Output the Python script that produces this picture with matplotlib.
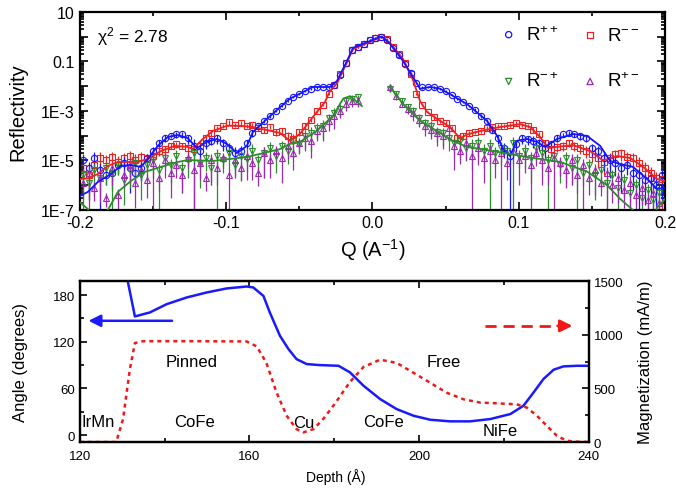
import numpy as np
import matplotlib
matplotlib.use('Agg')
import matplotlib.pyplot as plt
from matplotlib.ticker import FixedLocator, MultipleLocator, FuncFormatter, NullFormatter

plt.rcParams['font.family'] = ['Liberation Sans', 'DejaVu Sans']
plt.rcParams['mathtext.fontset'] = 'custom'
plt.rcParams['mathtext.rm'] = 'Liberation Sans'
plt.rcParams['mathtext.it'] = 'Liberation Sans:italic'
plt.rcParams['mathtext.default'] = 'regular'

# ---------------- top panel: reflectivity (log10 values) ----------------
# non spin-flip data, Q = -0.198 ... 0.198 (step 0.004)
log_r_pp = [-5.0, -5.3, -4.9, -5.4, -5.6, -5.5, -5.2, -5.1, -5.3, -5.5,
            -5.3, -4.9, -4.6, -4.3, -4.1, -4.0, -3.95, -3.95, -4.1, -4.4,
            -4.6, -4.3, -4.2, -4.1, -4.3, -4.5, -4.7, -4.6, -4.3, -3.9,
            -3.6, -3.4, -3.2, -3.0, -2.8, -2.6, -2.45, -2.3, -2.2, -2.1,
            -2.05, -2.03, -2.05, -1.95, -1.55, -1.05, -0.55, -0.4, -0.28, -0.15,
            -0.05, 0.0, -0.12, -0.45, -0.75, -1.1, -1.45, -1.85, -2.05, -2.03,
            -2.05, -2.1, -2.2, -2.35, -2.5, -2.62, -2.8, -2.95, -3.2, -3.4,
            -3.75, -4.1, -4.5, -4.8, -4.35, -4.1, -4.15, -4.2, -4.3, -4.5,
            -4.35, -4.1, -3.95, -3.9, -3.95, -4.0, -4.1, -4.5, -4.6, -4.9,
            -5.0, -5.1, -5.3, -5.2, -5.5, -5.6, -5.8, -5.7, -6.0, -5.6]
log_r_mm = [-5.3, -5.6, -5.2, -4.9, -5.0, -4.85, -5.05, -4.9, -4.8, -5.0,
            -4.85, -4.95, -4.8, -4.6, -4.55, -4.4, -4.35, -4.4, -4.5, -4.55,
            -4.4, -4.1, -3.9, -3.7, -3.6, -3.45, -3.55, -3.5, -3.6, -3.55,
            -3.7, -3.75, -3.65, -3.85, -3.8, -4.0, -4.15, -3.85, -3.6, -3.35,
            -3.0, -2.75, -2.3, -1.95, -1.5, -1.05, -0.55, -0.4, -0.28, -0.15,
            -0.05, 0.0, -0.1, -0.4, -0.7, -1.05, -1.5, -2.3, -2.75, -3.05,
            -3.25, -3.4, -3.5, -3.7, -4.1, -4.0, -3.9, -3.85, -3.8, -3.7,
            -3.65, -3.6, -3.6, -3.55, -3.5, -3.55, -3.6, -3.75, -3.95, -4.3,
            -4.55, -4.45, -4.4, -4.3, -4.4, -4.5, -4.6, -4.75, -4.9, -5.05,
            -4.9, -4.75, -4.7, -4.85, -4.9, -5.1, -5.3, -5.5, -5.7, -5.75]
# relative errors in tenths (10 = bar reaches the bottom)
err_pp = [8, 9, 7, 10, 6, 8, 5, 7, 9, 6, 7, 5, 4,
          3, 3, 2, 3, 3, 4, 10, 5, 4, 3, 4, 5, 6, 8, 6,
          4, 3, 2, 2, 2, 1, 1, 1, 1, 1, 1, 1, 1, 1, 1, 1,
          1, 1, 1, 1, 1, 1, 1, 1, 1, 1, 1, 1, 1, 1,
          1, 1, 1, 1, 1, 1, 1, 1, 1, 2, 2, 2,
          3, 4, 6, 10, 5, 4, 4, 5, 5, 6,
          4, 3, 2, 2, 2, 3, 3, 5, 6, 7,
          8, 7, 9, 6, 8, 10, 9, 8, 10, 9]
err_mm = [6, 9, 5, 7, 6, 5, 7, 6, 5, 8, 6, 7, 5,
          4, 4, 3, 3, 3, 4, 4, 5, 3, 3, 2, 2, 2, 2, 2,
          2, 2, 2, 3, 2, 3, 3, 4, 5, 3, 3, 2, 2, 1, 1, 1,
          1, 1, 1, 1, 1, 1, 1, 1, 1, 1, 1, 1, 1, 1,
          1, 1, 2, 2, 2, 2, 3, 3, 2, 2, 2, 2,
          2, 2, 2, 2, 2, 2, 2, 3, 3, 4,
          5, 4, 4, 3, 4, 4, 5, 5, 6, 7,
          6, 5, 5, 6, 6, 7, 8, 8, 9, 10]

# spin-flip data, Q = -0.198 ... -0.010 and 0.012 ... 0.196 (step 0.004)
log_r_mp_neg = [-5.6, -5.9, -5.4, -5.7, -5.3, -5.5, -5.2, -5.8, -5.4, -5.1,
                -5.6, -5.2, -5.0, -5.4, -4.9, -5.2, -4.8, -5.3, -5.0, -4.7,
                -5.1, -4.9, -5.3, -4.8, -5.0, -4.7, -5.2, -4.8, -4.95, -4.6,
                -5.0, -4.7, -4.5, -4.8, -4.4, -4.6, -4.2, -4.35, -4.0, -3.9,
                -3.7, -3.6, -3.3, -3.1, -2.9, -2.6, -2.5, -2.45]
log_r_pm_neg = [-5.9, -5.5, -6.1, -5.7, -6.5, -5.3, -6.4, -5.6, -5.2, -5.9,
                -5.4, -5.8, -5.1, -5.7, -5.0, -5.5, -5.2, -5.6, -4.9, -5.4,
                -5.1, -5.7, -5.0, -5.3, -4.9, -5.6, -5.0, -5.3, -4.8, -5.1,
                -5.5, -4.7, -5.0, -4.6, -4.9, -4.4, -4.7, -4.3, -4.1, -4.2,
                -3.8, -3.7, -3.4, -3.2, -3.0, -2.7, -2.6, -2.6]
log_r_mp_pos = [-2.1, -2.3, -2.6, -2.85, -3.0, -3.3, -3.5, -3.6, -3.85, -3.9,
                -4.1, -4.3, -4.2, -4.5, -4.4, -4.3, -4.6, -4.4, -4.7, -4.5,
                -4.6, -4.3, -4.8, -4.6, -4.9, -4.5, -4.7, -5.0, -4.8, -5.2,
                -4.9, -5.3, -5.0, -5.5, -5.2, -5.6, -5.4, -5.9, -5.6, -6.1,
                -5.8, -6.3, -6.0, -6.5, -6.2, -6.6, -6.3]
log_r_pm_pos = [-2.05, -2.4, -2.7, -2.9, -3.1, -3.35, -3.6, -3.75, -3.9, -4.0,
                -3.7, -4.4, -4.6, -4.3, -4.8, -4.5, -4.9, -4.6, -5.0, -4.7,
                -5.1, -4.6, -5.0, -4.8, -5.2, -4.7, -5.0, -5.3, -4.9, -5.1,
                -5.4, -5.0, -5.6, -5.2, -5.7, -5.4, -5.9, -5.5, -6.0, -5.7,
                -6.2, -5.9, -6.4, -6.1, -6.6, -6.3, -6.7]
err_mp_neg = [10, 8, 9, 7, 8, 10, 6, 9, 8, 7, 9, 7, 8, 10, 6, 8, 7, 9, 8, 6,
              9, 7, 8, 10, 7, 8, 6, 9, 7, 8, 6, 9, 7, 8, 6, 7, 8, 6, 7, 8,
              6, 7, 5, 6, 5, 4, 4, 3]
err_pm_neg = [8, 10, 7, 9, 6, 8, 10, 7, 8, 9, 6, 8, 10, 7, 8, 9, 7, 8, 6, 10,
              8, 7, 9, 8, 6, 10, 8, 7, 9, 8, 7, 9, 8, 6, 9, 7, 8, 6, 7, 8,
              6, 7, 6, 7, 5, 5, 4, 4]
err_mp_pos = [2, 3, 3, 4, 4, 5, 5, 6, 6, 7, 7, 6, 8, 7, 9, 7, 8, 10, 7, 8,
              6, 10, 7, 8, 9, 7, 8, 10, 7, 8, 9, 8, 10, 7, 8, 9, 8, 10, 7, 9,
              8, 10, 8, 9, 8, 10, 8]
err_pm_pos = [2, 3, 3, 4, 5, 5, 6, 6, 7, 7, 7, 9, 7, 8, 10, 8, 9, 7, 8, 10,
              8, 7, 9, 8, 10, 7, 9, 8, 10, 7, 8, 9, 8, 10, 8, 9, 7, 10, 8, 9,
              8, 10, 9, 8, 10, 8, 9]

# fitted curves (Q, log10 R)
fit_pp_q = [-0.2, -0.1945, -0.1877, -0.1788, -0.172, -0.1651, -0.1583, -0.1535, -0.1467,
            -0.1398, -0.133, -0.1262, -0.12, -0.1132, -0.1063, -0.0995, -0.0926, -0.0858,
            -0.0817, -0.0721, -0.0632, -0.0564, -0.0496, -0.0407, -0.0291, -0.0243, -0.0174,
            -0.0133, 0.0051, 0.0065, 0.012, 0.0209, 0.0277, 0.0325, 0.0393, 0.0462, 0.055,
            0.0646, 0.0687, 0.0783, 0.0851, 0.0892, 0.094, 0.0988, 0.1056, 0.1125, 0.1179,
            0.1262, 0.1371, 0.1467, 0.1556, 0.1624, 0.1692, 0.1781, 0.1877, 0.1945, 0.2]
fit_pp = [-6.43, -6.27, -5.87, -5.55, -5.22, -5.18, -5.26, -4.94, -4.41,
          -4.05, -3.97, -4.1, -4.5, -4.25, -4.13, -4.33, -4.7, -4.41,
          -3.85, -3.32, -2.85, -2.5, -2.3, -2.03, -2.03, -1.79, -0.98,
          -0.45, -0.01, 0.0, -0.29, -0.98, -1.63, -2.1, -2.03, -2.1, -2.39,
          -2.72, -2.92, -3.4, -4.0, -4.54, -4.82, -4.2, -4.13, -4.25, -4.45,
          -4.13, -3.93, -4.01, -4.41, -5.02, -5.14, -5.26, -5.75, -6.15, -6.1]
fit_mm_q = [-0.2, -0.1945, -0.1877, -0.1808, -0.174, -0.1603, -0.1535, -0.1446, -0.135,
            -0.1262, -0.1227, -0.1159, -0.1091, -0.0995, -0.0906, -0.0817, -0.0721, -0.0632,
            -0.0564, -0.0496, -0.0407, -0.0325, -0.0291, -0.0243, -0.0133, 0.0065, 0.012,
            0.0209, 0.0277, 0.0325, 0.0373, 0.0441, 0.053, 0.0598, 0.0646, 0.0735, 0.0872,
            0.1009, 0.1077, 0.1145, 0.12, 0.1262, 0.1371, 0.1487, 0.1576, 0.1672, 0.1761,
            0.185, 0.1945, 0.2]
fit_mm = [-5.75, -5.72, -5.55, -5.22, -5.06, -5.06, -4.94, -4.62, -4.41,
          -4.45, -4.54, -4.13, -3.81, -3.6, -3.6, -3.65, -3.77, -3.89,
          -4.2, -3.93, -3.24, -2.64, -2.2, -1.9, -0.5, 0.0, -0.25,
          -0.9, -1.75, -2.6, -3.04, -3.32, -3.65, -4.1, -3.95, -3.81, -3.65,
          -3.53, -3.65, -4.05, -4.5, -4.45, -4.38, -4.62, -5.0, -4.82, -4.9,
          -5.26, -5.75, -5.83]
fit_sf_neg_q = [-0.2, -0.1945, -0.19, -0.185, -0.1808, -0.174, -0.1651, -0.1556, -0.1446,
                -0.133, -0.1262, -0.1091, -0.0858, -0.0632, -0.0564, -0.05, -0.038,
                -0.027, -0.02, -0.0153, -0.0072]
fit_sf_neg = [-6.68, -6.96, -7.4, -7.4, -7.0, -6.27, -5.83, -5.46, -5.26,
              -5.06, -4.98, -5.02, -4.86, -4.54, -4.33, -4.27, -3.8,
              -3.2, -2.5, -2.4, -2.8]
fit_sf_pos_q = [0.012, 0.0209, 0.0325, 0.0441, 0.055, 0.0646, 0.0824, 0.1056, 0.1282,
                0.1467, 0.1603, 0.1692, 0.178, 0.186, 0.192, 0.1945, 0.2]
fit_sf_pos = [-2.03, -2.72, -3.4, -3.81, -4.21, -4.45, -4.62, -4.86, -5.06,
              -5.45, -6.0, -6.55, -7.0, -7.5, -7.3, -6.9, -6.55]

# ---------------- bottom panel: depth profile ----------------
depth_angle = [130.9, 133.0, 136.5, 140.5, 145.2, 149.9, 154.6, 159.3, 160.9, 163.3,
               164.8, 167.2, 169.2, 171.1, 173.5, 176.6, 181.0, 183.7, 186.9, 190.8,
               194.7, 198.7, 202.6, 207.3, 212.0, 216.8, 221.5, 224.6, 227.0, 229.3,
               231.7, 234.0, 237.2, 240.0]
angle = [209, 152.6, 157.7, 168.4, 177.0, 183.4, 188.6, 191.1, 189.9, 179.0,
         157.7, 127.6, 110.6, 97.7, 91.3, 90.0, 89.1, 80.6, 63.4, 46.3,
         33.4, 24.8, 19.7, 17.6, 17.6, 20.6, 27.0, 37.7, 54.9, 72.0,
         84.0, 88.3, 89.1, 89.1]
depth_mag = [120.0, 128.6, 130.2, 131.8, 133.0, 134.9, 147.0, 159.3, 161.7, 164.0,
             166.4, 168.8, 171.1, 172.7, 175.1, 177.5, 180.0, 183.7, 186.9, 190.8,
             194.7, 198.7, 202.6, 206.5, 210.5, 214.4, 218.3, 223.0, 225.4, 227.8,
             230.1, 232.5, 234.8, 237.2, 240.0]
magnetization = [0, 0, 213, 676, 923, 940, 940, 938, 892, 738,
                 460, 244, 120, 90, 120, 220, 350, 560, 700, 768,
                 738, 645, 553, 460, 398, 368, 361, 352, 321, 244,
                 151, 58, 12, 3, 0]
layer_names = ['IrMn', 'CoFe', 'Pinned', 'Cu', 'CoFe', 'Free', 'NiFe']
layer_x = [120.5, 147.0, 146.4, 172.7, 191.5, 205.7, 219.0]
layer_y = [17, 17, 95, 16, 18, 95, 6]

c_pp, c_mm, c_mp, c_pm = '#1414ff', '#f02020', '#2e8b2e', '#9a2ab0'


def with_err(logr, err):
    r = 10.0 ** np.array(logr)
    f = np.array(err) / 10.0
    lower = np.where(f >= 1.0, r * (1 - 1e-9), r * f)
    return r, [lower, r * np.minimum(f, 0.8)]


fig = plt.figure(figsize=(6.76, 4.89), dpi=100)
ax = fig.add_axes([0.118, 0.5685, 0.866, 0.405])

q_nsf = np.round(-0.198 + 0.004 * np.arange(len(log_r_pp)), 3)
q_neg = np.round(-0.198 + 0.004 * np.arange(len(log_r_mp_neg)), 3)
q_pos = np.round(0.012 + 0.004 * np.arange(len(log_r_mp_pos)), 3)

kw = dict(capsize=0, elinewidth=0.9, ms=4.5, mew=0.8, mfc='none', ls='none')
for logr, err, c, m in [(log_r_mm, err_mm, c_mm, 's'), (log_r_pp, err_pp, c_pp, 'o')]:
    r, e = with_err(logr, err)
    ax.errorbar(q_nsf, r, yerr=e, fmt=m, color=c, mec=c, **kw)
for lg_n, er_n, lg_p, er_p, c, m in [(log_r_mp_neg, err_mp_neg, log_r_mp_pos, err_mp_pos, c_mp, 'v'),
                                      (log_r_pm_neg, err_pm_neg, log_r_pm_pos, err_pm_pos, c_pm, '^')]:
    r, e = with_err(lg_n, er_n)
    ax.errorbar(q_neg, r, yerr=e, fmt=m, color=c, mec=c, **kw)
    r, e = with_err(lg_p, er_p)
    ax.errorbar(q_pos, r, yerr=e, fmt=m, color=c, mec=c, **kw)

ax.plot(fit_mm_q, 10.0 ** np.array(fit_mm), color=c_mm, lw=1.3, zorder=5)
ax.plot(fit_pp_q, 10.0 ** np.array(fit_pp), color=c_pp, lw=1.3, zorder=5)
ax.plot(fit_sf_neg_q, 10.0 ** np.array(fit_sf_neg), color=c_mp, lw=1.3, zorder=5)
ax.plot(fit_sf_pos_q, 10.0 ** np.array(fit_sf_pos), color=c_mp, lw=1.3, zorder=5)

ax.set_yscale('log')
ax.set_xlim(-0.2, 0.2)
ax.set_ylim(1e-7, 10)
ax.xaxis.set_major_locator(FixedLocator([-0.2, -0.1, 0.0, 0.1, 0.2]))
ax.xaxis.set_minor_locator(MultipleLocator(0.05))
ax.xaxis.set_major_formatter(FuncFormatter(lambda v, p: '%.1f' % v if abs(v) > 1e-9 else '0.0'))
ax.yaxis.set_major_locator(FixedLocator([10.0 ** k for k in range(-7, 2)]))
ax.yaxis.set_minor_locator(FixedLocator([m * 10.0 ** k for k in range(-7, 1) for m in range(2, 10)]))
ylab = {1: '10', -1: '0.1', -3: '1E-3', -5: '1E-5', -7: '1E-7'}
ax.yaxis.set_major_formatter(FuncFormatter(lambda v, p: ylab.get(int(round(np.log10(v))), '')))
ax.yaxis.set_minor_formatter(NullFormatter())
ax.tick_params(which='both', direction='in', top=True, right=True, labelsize=11.5, width=1.2)
ax.tick_params(which='major', length=6)
ax.tick_params(which='minor', length=3)
for s in ax.spines.values():
    s.set_linewidth(1.6)
ax.set_ylabel('Reflectivity', fontsize=14.5)
ax.yaxis.set_label_coords(-0.09, 0.5)
ax.set_xlabel('Q (A$^{-1}$)', fontsize=14.5)
ax.xaxis.set_label_coords(0.5, -0.13)
ax.text(0.03, 0.88, 'χ$^{2}$ = 2.78', transform=ax.transAxes, fontsize=12.5, va='center')

h_pp = ax.scatter([], [], marker='o', facecolors='none', edgecolors=c_pp, s=20, lw=0.9)
h_mm = ax.scatter([], [], marker='s', facecolors='none', edgecolors=c_mm, s=20, lw=0.9)
h_mp = ax.scatter([], [], marker='v', facecolors='none', edgecolors=c_mp, s=20, lw=0.9)
h_pm = ax.scatter([], [], marker='^', facecolors='none', edgecolors=c_pm, s=20, lw=0.9)
ax.legend([h_pp, h_mp, h_mm, h_pm], ['R$^{++}$', 'R$^{-+}$', 'R$^{--}$', 'R$^{+-}$'],
          ncol=2, loc='upper right', bbox_to_anchor=(0.985, 1.02), frameon=False,
          fontsize=13.5, labelspacing=1.5, columnspacing=1.2, handletextpad=0.4,
          handlelength=1.0)

# bottom panel
ax3 = fig.add_axes([0.118, 0.094, 0.753, 0.329])
ax4 = ax3.twinx()
ax3.plot(depth_angle, angle, color='#1a1aff', lw=1.8, zorder=4)
ax4.plot(depth_mag, magnetization, color='#f01818', lw=1.8, dashes=(1.6, 1.6))
ax3.set_xlim(120, 240)
ax3.set_ylim(-9, 198)
ax4.set_ylim(0, 1500)
for name, x, y in zip(layer_names, layer_x, layer_y):
    ax3.text(x, y, name, fontsize=12, ha='left' if name == 'IrMn' else 'center', va='center')

ax3.annotate('', xy=(121.4, 147), xytext=(142.4, 147),
             arrowprops=dict(arrowstyle='-|>', color='#1a1aff', lw=1.8, mutation_scale=18))
ax4.plot([215.6, 232.5], [1083, 1083], color='#f01818', lw=2, dashes=(4, 2.5))
ax4.annotate('', xy=(236.8, 1083), xytext=(232.0, 1083),
             arrowprops=dict(arrowstyle='-|>', color='#f01818', lw=2, mutation_scale=18))

ax3.xaxis.set_major_locator(FixedLocator([120, 160, 200, 240]))
ax3.xaxis.set_minor_locator(MultipleLocator(20))
ax3.yaxis.set_major_locator(FixedLocator([0, 60, 120, 180]))
ax3.yaxis.set_minor_locator(MultipleLocator(30))
ax4.yaxis.set_major_locator(FixedLocator([0, 500, 1000, 1500]))
ax4.yaxis.set_minor_locator(MultipleLocator(250))
ax3.tick_params(which='both', direction='in', top=True, labelsize=9.5, width=1.2)
ax3.tick_params(axis='x', which='major', pad=6)
ax3.tick_params(which='major', length=5)
ax3.tick_params(which='minor', length=3)
ax4.tick_params(which='both', direction='in', labelsize=9.5, width=1.2)
ax4.tick_params(which='major', length=5)
ax4.tick_params(which='minor', length=3)
for a in (ax3, ax4):
    for s in a.spines.values():
        s.set_linewidth(1.6)
ax3.set_ylabel('Angle (degrees)', fontsize=12)
ax3.yaxis.set_label_coords(-0.102, 0.5)
ax4.set_ylabel('Magnetization (mA/m)', fontsize=12)
ax4.yaxis.set_label_coords(1.096, 0.5)
ax3.set_xlabel('Depth (Å)', fontsize=10)
ax3.xaxis.set_label_coords(0.503, -0.16)

plt.savefig('out.png', dpi=100)
plt.close()
